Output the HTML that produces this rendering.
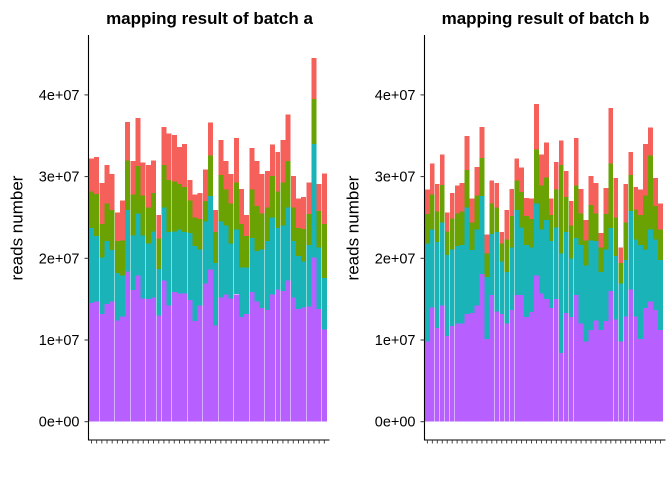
<!DOCTYPE html>
<html><head><meta charset="utf-8"><style>
body{margin:0;background:#fff;}
svg{display:block;font-family:"Liberation Sans",Arial,sans-serif;}
</style></head><body>
<svg id="chart" width="672" height="480" viewBox="0 0 672 480" xmlns="http://www.w3.org/2000/svg"></svg>
<script>
// cumulative stacked levels (millions of reads): purple, +teal, +green, +red (total)
const aPurple=[14.5,14.7,13.2,14.4,14.7,12.4,12.9,18.4,16.1,17.9,15.1,15.0,15.2,13.0,17.3,14.2,15.9,15.7,15.7,14.9,12.3,14.2,16.9,18.6,11.8,15.2,15.6,15.1,15.6,12.8,13.2,15.9,14.7,13.9,13.7,15.6,16.2,16.0,17.3,15.2,13.8,14.0,14.1,20.1,13.8,11.3];
const aTeal=[23.7,22.7,20.1,22.1,21.0,18.2,17.9,25.9,22.8,25.5,22.8,21.8,23.3,18.7,26.2,23.2,23.3,23.5,23.2,23.1,21.5,21.1,24.5,27.6,19.4,24.5,24.0,21.8,23.5,18.9,18.9,22.5,20.9,21.1,22.1,25.0,23.7,24.0,26.2,22.1,20.3,19.6,21.6,34.0,21.3,17.6];
const aGreen=[28.2,27.9,24.2,26.7,25.9,22.1,22.2,32.0,27.8,31.3,27.7,26.2,28.0,22.4,31.4,29.6,29.4,29.1,28.7,27.1,25.0,24.8,27.0,32.6,23.2,30.2,28.4,26.7,29.3,24.2,22.7,28.4,26.4,25.5,26.2,30.1,28.2,29.3,31.9,26.2,23.7,23.6,25.4,39.5,25.8,24.2];
const aRed=[32.2,32.4,29.2,31.4,30.3,25.6,27.1,36.7,31.9,37.2,31.7,31.4,32.0,25.3,36.1,35.3,35.1,33.6,34.0,29.6,27.8,28.0,30.9,36.6,25.9,34.5,31.9,30.3,34.7,28.5,25.3,33.5,31.9,30.3,30.7,33.9,33.0,34.5,37.6,30.1,27.3,27.5,29.3,44.5,29.1,30.4];
const bPurple=[9.8,14.0,11.5,14.2,10.5,11.7,12.0,12.0,13.2,13.3,14.2,18.1,10.1,15.5,13.5,13.2,12.0,13.7,15.5,15.5,12.8,13.4,17.9,15.7,15.0,13.9,15.0,8.4,13.3,12.8,15.5,12.0,9.8,11.2,12.4,11.2,12.3,16.0,12.5,9.8,12.9,16.2,12.9,10.1,13.9,14.7,13.7,11.2];
const bTeal=[21.8,23.5,22.0,24.4,20.4,21.1,21.5,21.6,26.2,21.0,23.5,27.6,17.7,23.0,23.2,19.6,18.3,21.3,25.9,23.8,21.6,21.3,26.7,23.5,24.7,22.1,23.8,20.6,23.2,20.0,22.5,21.6,19.1,22.2,22.1,18.3,21.1,23.7,20.3,16.9,19.8,25.8,22.3,21.6,21.1,23.5,22.3,19.8];
const bGreen=[25.4,27.8,25.7,29.0,23.3,24.9,25.5,25.7,30.8,24.4,27.7,32.3,20.6,26.7,26.2,21.8,22.3,25.2,29.5,28.1,25.2,24.8,33.3,28.9,29.9,25.3,28.4,31.4,27.5,24.0,28.9,25.5,22.2,26.5,25.5,21.3,25.4,31.6,25.0,19.4,24.4,30.2,26.0,25.3,27.7,32.6,26.4,23.5];
const bRed=[28.4,31.6,29.1,32.7,25.6,28.0,28.9,29.2,35.0,27.3,31.2,36.1,22.9,29.5,29.2,23.2,25.9,28.5,32.2,31.1,27.4,27.3,38.9,32.7,34.2,27.3,31.8,34.4,30.7,27.0,34.7,28.5,24.7,30.1,29.2,23.1,28.6,38.4,29.8,21.3,29.1,33.0,28.7,28.4,34.0,36.0,29.8,26.7];
const yTicks=[0,10,20,30,40];
const yTickLabels=["0e+00","1e+07","2e+07","3e+07","4e+07"];
const titles=["mapping result of batch a","mapping result of batch b"];

const NS="http://www.w3.org/2000/svg";
const svg=document.getElementById('chart');
const colors=["#B75FFF","#19B3B8","#6AA204","#F5605A"];
function mk(tag,attrs,parent){const e=document.createElementNS(NS,tag);for(const k in attrs)e.setAttribute(k,attrs[k]);(parent||svg).appendChild(e);return e;}
const y0=421.7, pxPer=8.17;
function yScale(v){return y0-v*pxPer;}

function panel(axX,xEnd,levels,title,key){
  const g=mk('g',{});
  
  
  const n=levels[0].length;
  const step=(xEnd-axX)/n;
  const bw=step-0.2;
  const xScale=i=>axX+0.5+i*step;
  const bars=mk('g',{"shape-rendering":"crispEdges"},g);
  for(let i=0;i<n;i++){
    let prev=0;
    for(let l=0;l<4;l++){
      const top=levels[l][i];
      const r=mk('rect',{x:xScale(i).toFixed(2),y:yScale(top).toFixed(2),width:bw.toFixed(2),height:(yScale(prev)-yScale(top)).toFixed(2),fill:colors[l]},bars);
      
      
      prev=top;
    }
  }
  const ya=mk('line',{x1:axX,y1:35,x2:axX,y2:440.5,stroke:"#000","stroke-width":1.1},g);
  
  
  const xa=mk('line',{x1:axX-0.5,y1:440,x2:xEnd+3,y2:440,stroke:"#000","stroke-width":1.1},g);
  
  
  for(let i=0;i<n;i++){
    const cx=xScale(i)+bw/2;
    const t=mk('line',{x1:cx,y1:440,x2:cx,y2:443.5,stroke:"#333","stroke-width":0.9},g);
    
    
  }
  yTicks.forEach((v,k)=>{
    const yy=yScale(v);
    const t=mk('line',{x1:axX-4,y1:yy,x2:axX,y2:yy,stroke:"#333","stroke-width":1},g);
    
    
    const tx=mk('text',{x:axX-9,y:yy+5,"text-anchor":"end","font-size":"14.5",fill:"#000"},g);
    tx.textContent=yTickLabels[k];
    
    
  });
  const yt=mk('text',{x:0,y:0,transform:`translate(${axX-66},228) rotate(-90)`,"text-anchor":"middle","font-size":"17",fill:"#000"},g);
  yt.textContent="reads number";
  
  
  const tt=mk('text',{x:(axX+xEnd)/2+2,y:24,"text-anchor":"middle","font-size":"17","font-weight":"bold",fill:"#000"},g);
  tt.textContent=title;
  
  
}
panel(88.5,326.5,[aPurple,aTeal,aGreen,aRed],titles[0],'a');
panel(424.5,662.5,[bPurple,bTeal,bGreen,bRed],titles[1],'b');
</script>
</body></html>
